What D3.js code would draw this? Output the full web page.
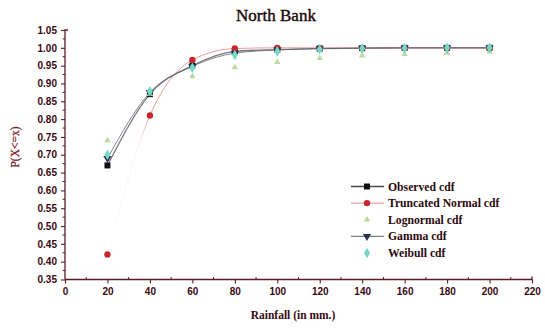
<!DOCTYPE html>
<html>
<head>
<meta charset="utf-8">
<script src="https://cdn.jsdelivr.net/npm/d3@7"></script>
<style>
  html, body { margin: 0; padding: 0; background: #fff; }
  svg { display: block; }
</style>
</head>
<body>
<svg id="chart" width="545" height="329"></svg>
<script>
// Rainfall thresholds (mm) and cumulative probabilities P(X<=x)
const rainfall = [20, 40, 60, 80, 100, 120, 140, 160, 180, 200];
const observedCdf  = [0.67, 0.87, 0.95, 0.99, 0.995, 0.998, 0.999, 1.0, 1.0, 1.0];
const truncNormCdf = [0.42, 0.81, 0.966, 0.998, 1.0, 1.0, 1.0, 1.0, 1.0, 1.0];
const lognormalCdf = [0.74, 0.87, 0.92, 0.945, 0.96, 0.971, 0.978, 0.982, 0.986, 0.989];
const gammaCdf     = [0.69, 0.875, 0.948, 0.985, 0.994, 0.998, 0.999, 1.0, 1.0, 1.0];
const weibullCdf   = [0.70, 0.878, 0.944, 0.98, 0.99, 0.996, 0.998, 0.999, 1.0, 1.0];

const xTicks = [0, 20, 40, 60, 80, 100, 120, 140, 160, 180, 200, 220];
const yTicks = [0.35, 0.40, 0.45, 0.50, 0.55, 0.60, 0.65, 0.70, 0.75, 0.80, 0.85, 0.90, 0.95, 1.00, 1.05];

const series = [
  { name: "Observed cdf",         values: observedCdf,  color: "#111111", symbol: d3.symbolSquare,   size: 36, line: true,  lineColor: "#4a4a4a", lineWidth: 1.3 },
  { name: "Truncated Normal cdf", values: truncNormCdf, color: "#c8262c", symbol: d3.symbolCircle,   size: 32, line: true,  lineColor: "#e06a70", lineWidth: 0.8 },
  { name: "Lognormal cdf",        values: lognormalCdf, color: "#b9dca0", symbol: d3.symbolTriangle, size: 18, line: false },
  { name: "Gamma cdf",            values: gammaCdf,     color: "#2c3550", symbol: d3.symbolTriangle, size: 30, line: true,  lineColor: "#5a5e70", lineWidth: 1.0, flip: true },
  { name: "Weibull cdf",          values: weibullCdf,   color: "#74d8c6", symbol: d3.symbolDiamond,  size: 32, line: false }
];

const axisColor = "#5a1e28";
const textColor = "#3a0a12";

const svg = d3.select("#chart");
svg.append("rect").attr("width", 545).attr("height", 329).attr("fill", "#fff");

const x = d3.scaleLinear().domain([0, 220]).range([65, 532]);
const y = d3.scaleLinear().domain([0.35, 1.05]).range([279.5, 30]);

// Red curve fades out toward its first point
const defs = svg.append("defs");
const grad = defs.append("linearGradient")
  .attr("id", "fadeRed").attr("gradientUnits", "userSpaceOnUse")
  .attr("x1", x(20)).attr("x2", x(40)).attr("y1", 0).attr("y2", 0);
grad.append("stop").attr("offset", 0).attr("stop-color", "#e06a70").attr("stop-opacity", 0.03);
grad.append("stop").attr("offset", 0.75).attr("stop-color", "#e06a70").attr("stop-opacity", 0.12);
grad.append("stop").attr("offset", 1).attr("stop-color", "#e06a70").attr("stop-opacity", 0.85);

// Axes
const xAxis = d3.axisBottom(x).tickValues(xTicks).tickSize(4).tickPadding(4).tickFormat(d3.format("d"));
const gx = svg.append("g").attr("transform", `translate(0,${y(0.35)})`).call(xAxis);
const yAxis = d3.axisLeft(y).tickValues(yTicks).tickSize(4).tickPadding(4).tickFormat(d3.format(".2f"));
const gy = svg.append("g").attr("transform", `translate(${x(0)},0)`).call(yAxis);

[gx, gy].forEach(g => {
  g.select(".domain").attr("stroke", axisColor).attr("stroke-width", 1.3);
  g.selectAll(".tick line").attr("stroke", axisColor).attr("stroke-width", 1.1);
  g.selectAll(".tick text")
    .attr("fill", textColor)
    .attr("font-family", "'Liberation Sans', Arial, sans-serif")
    .attr("font-size", 10)
    .attr("font-weight", "bold");
});
gx.select(".domain").attr("d", `M${x(0)},0H${x(220)}V-3`);
gy.select(".domain").attr("d", `M3,${y(1.05)}H0V${y(0.35)}`);

// Minor ticks
const xMinor = d3.range(10, 220, 20);
svg.append("g").selectAll("line").data(xMinor).join("line")
  .attr("x1", d => x(d)).attr("x2", d => x(d))
  .attr("y1", y(0.35)).attr("y2", y(0.35) - 2.5)
  .attr("stroke", axisColor).attr("stroke-width", 1);
const yMinor = d3.range(0.375, 1.05, 0.05);
svg.append("g").selectAll("line").data(yMinor).join("line")
  .attr("x1", x(0)).attr("x2", x(0) - 2.5)
  .attr("y1", d => y(d)).attr("y2", d => y(d))
  .attr("stroke", axisColor).attr("stroke-width", 1);

// Curves
const line = d3.line().x(d => x(d[0])).y(d => y(d[1])).curve(d3.curveMonotoneX);
series.filter(s => s.line).forEach(s => {
  const pts = rainfall.map((r, i) => [r, s.values[i]]);
  svg.append("path")
    .attr("d", line(pts))
    .attr("fill", "none")
    .attr("stroke", s.name === "Truncated Normal cdf" ? "url(#fadeRed)" : s.lineColor)
    .attr("stroke-width", s.lineWidth)
    .attr("stroke-opacity", s.name === "Truncated Normal cdf" ? 1 : 0.75);
});

// Markers
series.forEach(s => {
  const sym = d3.symbol().type(s.symbol).size(s.size);
  svg.append("g").selectAll("path").data(rainfall.map((r, i) => [r, s.values[i]])).join("path")
    .attr("d", sym)
    .attr("transform", d => `translate(${x(d[0])},${y(d[1])})${s.flip ? " rotate(180)" : ""}`)
    .attr("fill", s.color);
});

// Title and axis labels
svg.append("text")
  .attr("x", 276).attr("y", 21).attr("text-anchor", "middle")
  .attr("font-family", "'Liberation Serif', 'Times New Roman', serif")
  .attr("font-size", 17).attr("fill", "#1a0808")
  .attr("stroke", "#1a0808").attr("stroke-width", 0.4)
  .text("North Bank");

svg.append("text")
  .attr("x", 293).attr("y", 319).attr("text-anchor", "middle")
  .attr("font-family", "'Liberation Serif', 'Times New Roman', serif")
  .attr("font-size", 11.5).attr("font-weight", "bold").attr("fill", textColor)
  .text("Rainfall (in mm.)");

svg.append("text")
  .attr("transform", "translate(19,147) rotate(-90)").attr("text-anchor", "middle")
  .attr("font-family", "'Liberation Serif', 'Times New Roman', serif")
  .attr("font-size", 11.5).attr("fill", "#7a1a24")
  .attr("stroke", "#7a1a24").attr("stroke-width", 0.25)
  .text("P(X<=x)");

// Legend
const legend = svg.append("g");
series.forEach((s, i) => {
  const cy = 186.5 + i * 16.6;
  const row = legend.append("g");
  if (s.line) {
    row.append("line").attr("x1", 351).attr("x2", 384).attr("y1", cy).attr("y2", cy)
      .attr("stroke", s.lineColor)
      .attr("stroke-width", s.lineWidth);
  }
  row.append("path")
    .attr("d", d3.symbol().type(s.symbol).size(s.size)())
    .attr("transform", `translate(367,${cy})${s.flip ? " rotate(180)" : ""}`)
    .attr("fill", s.color);
  row.append("text")
    .attr("x", 388).attr("y", cy + 4)
    .attr("font-family", "'Liberation Serif', 'Times New Roman', serif")
    .attr("font-size", 11.7).attr("font-weight", "bold").attr("fill", "#2a080c")
    .text(s.name);
});
</script>
</body>
</html>
